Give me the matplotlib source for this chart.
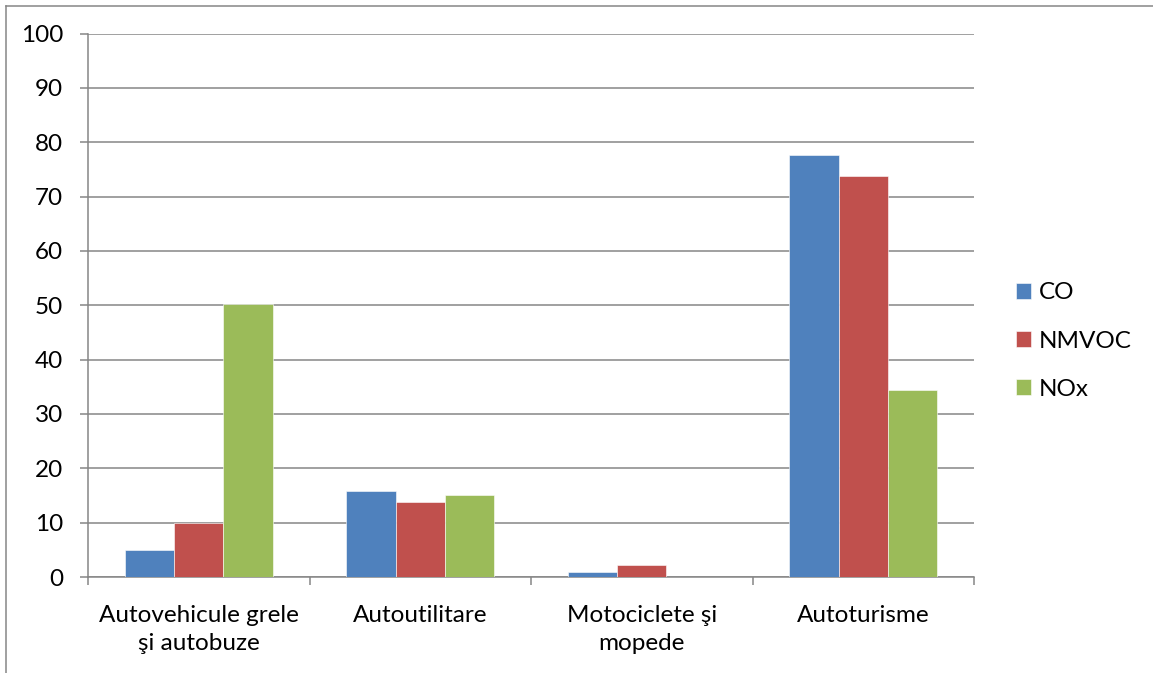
import numpy as np
import matplotlib
matplotlib.use("Agg")
import matplotlib.pyplot as plt
from matplotlib.lines import Line2D

plt.rcParams.update({
    "font.family": ["Lato", "DejaVu Sans"],
    "font.size": 17.5,
})

categories = ["Autovehicule grele\nşi autobuze", "Autoutilitare", "Motociclete şi\nmopede", "Autoturisme"]
series_names = ["CO", "NMVOC", "NOx"]
co = [5.0, 15.8, 1.0, 77.7]
nmvoc = [10.0, 13.8, 2.15, 73.7]
nox = [50.2, 15.1, 0.0, 34.4]
y_ticks = [0, 10, 20, 30, 40, 50, 60, 70, 80, 90, 100]

colors = ["#4F81BD", "#C0504D", "#9BBB59"]
grid_col = "#868686"

W, H = 1153, 673
fig = plt.figure(figsize=(W / 100, H / 100), dpi=100)
ax = fig.add_axes([88 / W, 1 - 577 / H, (974 - 88) / W, (577 - 33.5) / H])

x = np.arange(len(categories))
bw = 1 / 4.5
for k, (vals, name) in enumerate(zip([co, nmvoc, nox], series_names)):
    ax.bar(x + (k - 1) * bw, vals, width=bw, color=colors[k], label=name,
           edgecolor="white", linewidth=0.4, zorder=3)

ax.set_xlim(-0.5, len(categories) - 0.5)
ax.set_ylim(0, 100)
ax.set_yticks(y_ticks)
ax.yaxis.grid(True, color=grid_col, linewidth=1.1, zorder=0)
ax.set_xticks(x)
ax.set_xticklabels(categories, linespacing=1.4)
ax.set_xticks(np.arange(len(categories) + 1) - 0.5, minor=True)
ax.tick_params(axis="x", which="major", length=0, pad=20)
ax.tick_params(axis="x", which="minor", length=6, color=grid_col, width=1.1)
ax.tick_params(axis="y", length=6, color=grid_col, width=1.1, pad=12)
for s in ["top", "right"]:
    ax.spines[s].set_visible(False)
for s in ["left", "bottom"]:
    ax.spines[s].set_color(grid_col)
    ax.spines[s].set_linewidth(1.1)

ax.legend(loc="center left", bbox_to_anchor=(1004 / W, 1 - 341 / H),
          bbox_transform=fig.transFigure, frameon=False,
          handlelength=0.62, handleheight=0.62, handletextpad=0.3,
          labelspacing=1.12, borderpad=0, fontsize=17.5)

# outer chart border (only top and left edges are within the image)
fig.add_artist(Line2D([5.5 / W, 5.5 / W], [0, 1 - 5.5 / H], transform=fig.transFigure,
                      color=grid_col, linewidth=1.1))
fig.add_artist(Line2D([5.5 / W, 1], [1 - 5.5 / H, 1 - 5.5 / H], transform=fig.transFigure,
                      color=grid_col, linewidth=1.1))

fig.savefig("out.png", dpi=100, facecolor="white")
